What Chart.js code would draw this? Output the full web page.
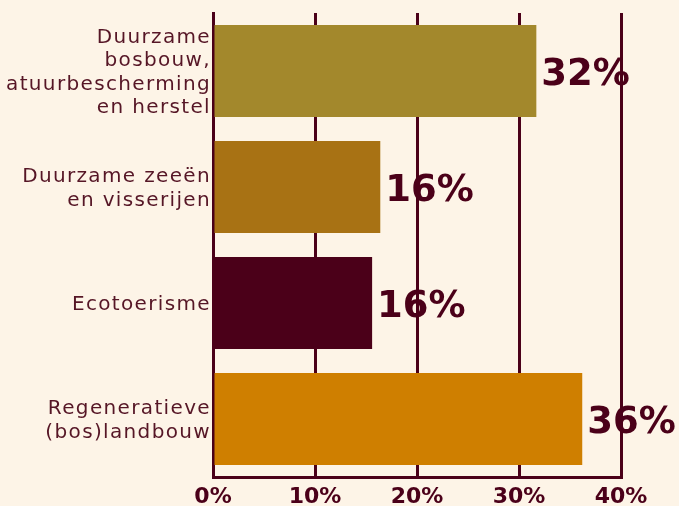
<!DOCTYPE html>
<html>
<head>
<meta charset="utf-8">
<script src="https://cdn.jsdelivr.net/npm/chart.js@4/dist/chart.umd.min.js"></script>
<style>
  html, body { margin: 0; padding: 0; background: #fdf4e7; }
  #wrap { width: 679px; height: 506px; }
</style>
</head>
<body>
<div id="wrap"><canvas id="c" width="679" height="506"></canvas></div>
<script>
// Sectors (multi-line labels) and their share of the total, in percent
const categories = [
  ['Duurzame', 'bosbouw,', 'atuurbescherming', 'en herstel'],
  ['Duurzame zeeën', 'en visserijen'],
  ['Ecotoerisme'],
  ['Regeneratieve', '(bos)landbouw']
];
const shares = [31.7, 16.4, 15.6, 36.2];
const barColors = ['#a3882c', '#a87214', '#4b0019', '#cf7f00'];
const tickValues = [0, 10, 20, 30, 40];

const INK = '#4b0019';
const LABEL_INK = '#561626';

Chart.defaults.font.family = "'DejaVu Sans', Verdana, sans-serif";

// Multi-line category labels with letter spacing, right-aligned against the axis
const categoryLabels = {
  id: 'categoryLabels',
  afterDraw(chart) {
    const ctx = chart.ctx;
    const y = chart.scales.y;
    ctx.save();
    ctx.font = "20px 'DejaVu Sans'";
    ctx.fillStyle = LABEL_INK;
    ctx.textAlign = 'right';
    ctx.textBaseline = 'middle';
    if ('letterSpacing' in ctx) ctx.letterSpacing = '1.35px';
    const lh = 23.5;
    chart.data.labels.forEach((lines, i) => {
      const cy = y.getPixelForTick(i) + 2;
      const start = cy - (lines.length - 1) * lh / 2;
      lines.forEach((t, k) => ctx.fillText(t, 211, start + k * lh));
    });
    ctx.restore();
  }
};

// Rounded percentage next to the end of each bar
const valueLabels = {
  id: 'valueLabels',
  afterDatasetsDraw(chart) {
    const ctx = chart.ctx;
    const meta = chart.getDatasetMeta(0);
    ctx.save();
    ctx.font = "bold 37px 'DejaVu Sans'";
    ctx.fillStyle = INK;
    ctx.textAlign = 'left';
    ctx.textBaseline = 'middle';
    meta.data.forEach((bar, i) => {
      const v = chart.data.datasets[0].data[i];
      ctx.fillText(Math.round(v) + '%', bar.x + 5, bar.y + 4);
    });
    ctx.restore();
  }
};

new Chart(document.getElementById('c'), {
  type: 'bar',
  data: {
    labels: categories,
    datasets: [{
      data: shares,
      backgroundColor: barColors,
      borderWidth: 0,
      categoryPercentage: 1,
      barPercentage: 0.793
    }]
  },
  options: {
    indexAxis: 'y',
    responsive: false,
    animation: false,
    devicePixelRatio: 1,
    layout: { padding: { top: 13, right: 58, bottom: 0, left: 0 } },
    plugins: {
      legend: { display: false },
      tooltip: { enabled: false }
    },
    scales: {
      x: {
        min: 0,
        max: 40,
        afterBuildTicks(scale) {
          scale.ticks = tickValues.map(v => ({ value: v }));
        },
        afterFit(scale) { scale.height = 29; },
        grid: {
          color: INK,
          lineWidth: 3,
          drawTicks: false
        },
        border: { display: true, color: INK, width: 3 },
        ticks: {
          color: INK,
          padding: 7,
          maxRotation: 0,
          font: { size: 22, weight: 'bold' },
          callback: v => v + '%'
        }
      },
      y: {
        afterFit(scale) { scale.width = 213; },
        grid: { display: false, drawTicks: false },
        border: { display: true, color: INK, width: 3 },
        ticks: { display: false }
      }
    }
  },
  plugins: [valueLabels, categoryLabels]
});
</script>
</body>
</html>
